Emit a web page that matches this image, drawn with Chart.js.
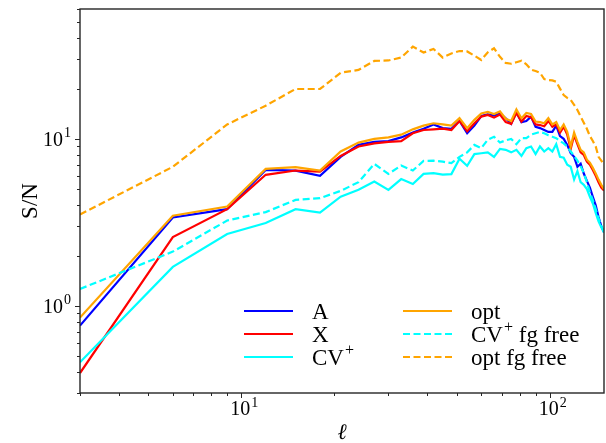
<!DOCTYPE html>
<html lang="en">
<head>
  <meta charset="UTF-8">
  <title>S/N vs multipole</title>
  <script src="https://cdn.jsdelivr.net/npm/chart.js"></script>
  <style>
    html, body { margin: 0; padding: 0; background: #fff; }
    .chart-wrapper { width: 606px; height: 443px; position: relative; }
  </style>
</head>
<body>
  <div class="chart-wrapper"><canvas id="snChart"></canvas></div>

  <script>
    // multipole bins (ell)
    const ells = [3, 6, 9, 12, 15, 18, 21, 24, 27, 30,
      33, 36, 39, 42, 45, 48, 51, 54, 57, 60,
      63, 66, 69, 72, 75, 78, 81, 84, 87, 90,
      93, 96, 99, 102, 105, 108, 111, 114, 117, 120,
      123, 126, 129, 132, 135, 138, 141, 144, 147, 150];

    const snA = [0.76, 3.38, 3.79, 6.52, 6.45, 6.00, 7.8, 9.2, 9.6, 9.7,
      10.2, 10.9, 11.5, 12.2, 11.6, 11.5, 12.8, 10.8, 12.0, 13.7,
      14.0, 13.8, 14.2, 13.3, 12.3, 14.5, 12.6, 12.8, 13.6, 11.8,
      11.6, 11.3, 11.0, 11.0, 12.0, 10.4, 10.0, 9.2, 8.2, 7.8,
      6.8, 7.1, 6.2, 5.6, 5.1, 4.5, 4.0, 3.4, 3.0, 2.75];

    const snX = [0.395, 2.58, 3.79, 6.09, 6.46, 6.37, 7.9, 9.0, 9.4, 9.6,
      9.7, 10.8, 11.3, 11.4, 11.5, 11.3, 12.8, 11.1, 12.4, 13.6,
      13.9, 13.4, 14.0, 12.6, 12.3, 14.3, 12.7, 13.7, 13.5, 12.2,
      12.1, 11.9, 12.8, 11.8, 12.2, 10.9, 11.8, 10.6, 8.7, 10.5,
      9.3, 8.3, 8.0, 7.3, 7.0, 6.5, 6.0, 5.5, 5.1, 4.9];

    const snCV = [0.458, 1.71, 2.69, 3.13, 3.79, 3.62, 4.5, 4.95, 5.55, 4.95,
      5.74, 5.36, 6.17, 6.23, 6.1, 6.15, 7.6, 6.9, 8.1, 8.2,
      8.3, 7.8, 8.7, 8.6, 8.3, 8.6, 7.9, 8.8, 9.0, 8.1,
      9.0, 8.4, 8.8, 8.4, 9.3, 7.8, 7.7, 7.0, 6.8, 5.7,
      6.4, 5.5, 5.3, 5.0, 4.5, 4.1, 3.6, 3.2, 2.95, 2.75];

    const snOpt = [0.85, 3.46, 3.93, 6.61, 6.77, 6.46, 8.4, 9.5, 10.0, 10.2,
      10.6, 11.4, 12.0, 12.4, 12.2, 12.0, 13.3, 11.6, 13.0, 14.2,
      14.5, 14.1, 14.6, 13.2, 12.8, 15.0, 13.3, 14.3, 14.1, 12.7,
      12.6, 12.4, 13.3, 12.2, 12.6, 11.3, 12.2, 11.0, 9.0, 10.9,
      9.6, 8.6, 8.3, 7.5, 7.2, 6.7, 6.2, 5.7, 5.3, 5.0];

    const snCVfree = [1.26, 2.11, 3.24, 3.64, 4.31, 4.41, 4.88, 5.5, 7.08, 6.17,
      6.92, 6.46, 7.38, 7.4, 7.3, 7.15, 7.8, 8.3, 9.2, 8.8,
      9.9, 10.3, 9.5, 9.8, 10.0, 9.3, 10.1, 10.1, 10.6, 10.8,
      11.0, 10.8, 10.5, 10.3, 10.1, 9.7, 9.4, 9.0, 8.4, 7.9,
      7.4, 6.85, 6.25, 5.5, 4.8, 4.3, 3.8, 3.35, 3.0, 2.8];

    const snOptFree = [3.52, 6.8, 12.2, 15.8, 19.9, 19.9, 24.9, 25.9, 29.3, 29.5,
      30.7, 35.7, 32.9, 34.6, 30.7, 32.5, 33.6, 33.4, 31.5, 29.7,
      33.0, 34.9, 31.0, 28.5, 28.2, 28.8, 29.4, 28.0, 26.0, 25.5,
      24.9, 22.8, 22.5, 22.4, 22.0, 20.0, 18.3, 17.6, 17.1, 16.0,
      14.9, 13.6, 12.5, 11.5, 10.4, 9.7, 9.0, 7.8, 7.4, 7.0];

    // axis ranges and labelled (major) ticks
    const xRange = [3, 150];
    const yRange = [0.3, 60];
    const xMajorTicks = [10, 100];
    const yMajorTicks = [1, 10];

    const SERIF = '"Liberation Serif", "DejaVu Serif", serif';

    const series = [
      { label: 'A', data: snA, color: '#0000ff', dashed: false },
      { label: 'X', data: snX, color: '#ff0000', dashed: false },
      { label: 'CV+', data: snCV, color: '#00ffff', dashed: false },
      { label: 'opt', data: snOpt, color: '#ffa500', dashed: false },
      { label: 'CV+ fg free', data: snCVfree, color: '#00ffff', dashed: true },
      { label: 'opt fg free', data: snOptFree, color: '#ffa500', dashed: true }
    ];

    // draw "10" with a raised exponent
    function drawPow(ctx, base, exp, x, y, size, align) {
      ctx.font = size + 'px ' + SERIF;
      const wb = ctx.measureText(base).width;
      ctx.font = Math.round(size * 0.7) + 'px ' + SERIF;
      const we = ctx.measureText(exp).width;
      const total = wb + we + 1;
      let x0 = x;
      if (align === 'center') x0 = x - total / 2;
      if (align === 'right') x0 = x - total;
      ctx.textAlign = 'left';
      ctx.textBaseline = 'alphabetic';
      ctx.font = size + 'px ' + SERIF;
      ctx.fillText(base, x0, y);
      ctx.font = Math.round(size * 0.7) + 'px ' + SERIF;
      ctx.fillText(exp, x0 + wb + 1, y - size * 0.42);
    }

    // "CV+" -> CV with superscript +
    function drawLabel(ctx, text, x, y, size) {
      ctx.textAlign = 'left';
      ctx.textBaseline = 'alphabetic';
      if (text.startsWith('CV+')) {
        ctx.font = size + 'px ' + SERIF;
        ctx.fillText('CV', x, y);
        let cx = x + ctx.measureText('CV').width + 1;
        ctx.font = Math.round(size * 0.7) + 'px ' + SERIF;
        ctx.fillText('+', cx, y - size * 0.42);
        cx += ctx.measureText('+').width;
        ctx.font = size + 'px ' + SERIF;
        ctx.fillText(text.slice(3), cx, y);
      } else {
        ctx.font = size + 'px ' + SERIF;
        ctx.fillText(text, x, y);
      }
    }

    const axisDeco = {
      id: 'axisDeco',
      afterDraw(chart) {
        const { ctx, chartArea: a, scales } = chart;
        const xs = scales.x, ys = scales.y;
        ctx.save();

        // tick marks (outward), major longer than minor
        ctx.strokeStyle = '#262626';
        ctx.lineWidth = 1;
        const xTicks = [];
        for (let d = 1; d <= 100; d *= 10)
          for (let m = 1; m < 10; m++) xTicks.push(m * d);
        xTicks.filter(v => v >= xRange[0] && v <= xRange[1]).forEach(v => {
          const px = Math.round(xs.getPixelForValue(v)) + 0.5;
          const len = xMajorTicks.includes(v) ? 5 : 3;
          ctx.beginPath(); ctx.moveTo(px, a.bottom); ctx.lineTo(px, a.bottom + len); ctx.stroke();
        });
        const yTicks = [];
        for (let d = 0.1; d <= 10.01; d *= 10)
          for (let m = 1; m < 10; m++) yTicks.push(+(m * d).toPrecision(3));
        yTicks.filter(v => v >= yRange[0] && v <= yRange[1]).forEach(v => {
          const py = Math.round(ys.getPixelForValue(v)) + 0.5;
          const len = yMajorTicks.includes(v) ? 5 : 3;
          ctx.beginPath(); ctx.moveTo(a.left, py); ctx.lineTo(a.left - len, py); ctx.stroke();
        });

        // frame
        ctx.lineWidth = 1.4;
        ctx.strokeRect(a.left, a.top, a.right - a.left, a.bottom - a.top);

        // tick labels
        ctx.fillStyle = '#000';
        xMajorTicks.forEach(v => {
          drawPow(ctx, '10', String(Math.round(Math.log10(v))), xs.getPixelForValue(v) + 3, a.bottom + 22, 20, 'center');
        });
        yMajorTicks.forEach(v => {
          drawPow(ctx, '10', String(Math.round(Math.log10(v))), a.left - 9, ys.getPixelForValue(v) + 7, 20, 'right');
        });

        // axis titles
        ctx.font = 'italic 22px "DejaVu Serif", serif';
        ctx.textAlign = 'center';
        ctx.textBaseline = 'alphabetic';
        ctx.fillText('ℓ', (a.left + a.right) / 2, 439);
        ctx.save();
        ctx.translate(37, (a.top + a.bottom) / 2);
        ctx.rotate(-Math.PI / 2);
        ctx.font = '23px ' + SERIF;
        ctx.fillText('S/N', 0, 0);
        ctx.restore();

        // legend: two columns of three rows
        const cols = [{ x0: 244, x1: 293, tx: 312 }, { x0: 403, x1: 452, tx: 471 }];
        const rows = [311, 334, 357];
        series.forEach((s, i) => {
          const c = cols[Math.floor(i / 3)], ry = rows[i % 3];
          ctx.strokeStyle = s.color;
          ctx.lineWidth = 2.2;
          ctx.setLineDash(s.dashed ? [7, 3.5] : []);
          ctx.beginPath(); ctx.moveTo(c.x0, ry); ctx.lineTo(c.x1, ry); ctx.stroke();
          ctx.setLineDash([]);
          ctx.fillStyle = '#000';
          drawLabel(ctx, s.label, c.tx, ry + 8, 23);
        });

        ctx.restore();
      }
    };

    new Chart(document.getElementById('snChart'), {
      type: 'line',
      data: {
        datasets: series.map((s, i) => ({
          label: s.label,
          data: ells.map((l, k) => ({ x: l, y: s.data[k] })),
          borderColor: s.color,
          backgroundColor: s.color,
          borderWidth: 2.2,
          borderDash: s.dashed ? [7, 3.5] : [],
          pointRadius: 0,
          tension: 0,
          fill: false,
          order: series.length - i
        }))
      },
      options: {
        responsive: true,
        maintainAspectRatio: false,
        animation: false,
        devicePixelRatio: 1,
        layout: { padding: { top: 9, right: 2, left: 0, bottom: 0 } },
        plugins: { legend: { display: false }, tooltip: { enabled: false } },
        scales: {
          x: {
            type: 'logarithmic', min: xRange[0], max: xRange[1],
            grid: { display: false }, border: { display: false },
            ticks: { display: false },
            afterFit: (scale) => { scale.height = 50; }
          },
          y: {
            type: 'logarithmic', min: yRange[0], max: yRange[1],
            grid: { display: false }, border: { display: false },
            ticks: { display: false },
            afterFit: (scale) => { scale.width = 80; }
          }
        }
      },
      plugins: [axisDeco]
    });
  </script>
</body>
</html>
